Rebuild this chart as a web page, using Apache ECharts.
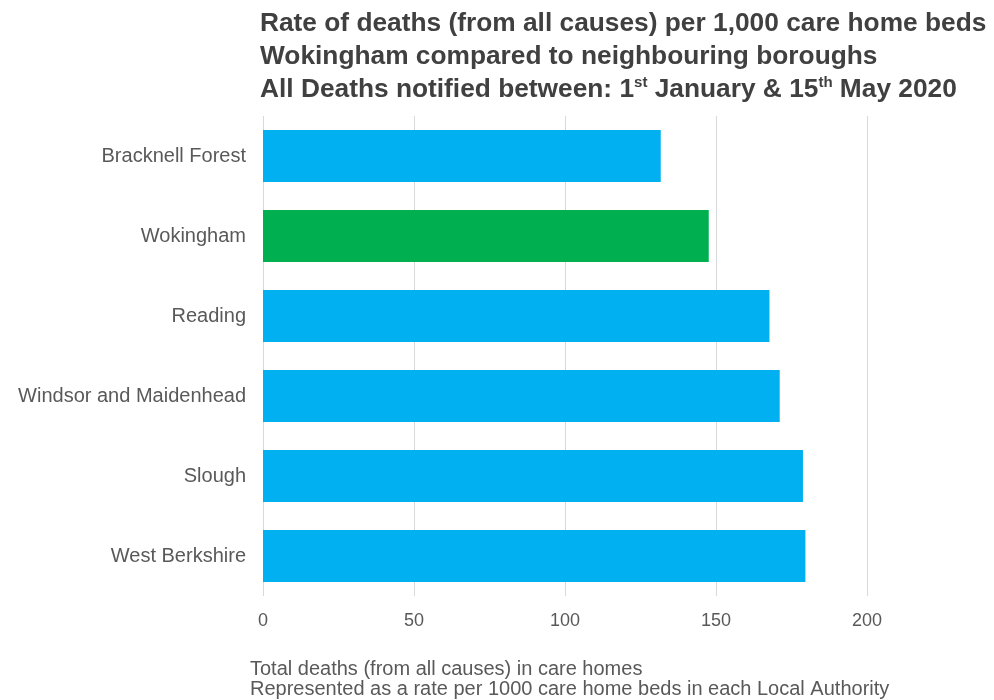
<!DOCTYPE html>
<html>
<head>
<meta charset="utf-8">
<title>Care home deaths rate</title>
<script src="https://cdn.jsdelivr.net/npm/echarts@6/dist/echarts.min.js"></script>
<style>
  html, body { margin: 0; padding: 0; background: #fff; }
  #main { width: 994px; height: 700px; }
</style>
</head>
<body>
<div id="main"></div>
<script>
var boroughs = ['Bracknell Forest', 'Wokingham', 'Reading', 'Windsor and Maidenhead', 'Slough', 'West Berkshire'];
var rates = [131.7, 147.6, 167.7, 171.1, 178.8, 179.6];
var xTicks = [0, 50, 100, 150, 200];
var highlight = 'Wokingham';

var font = 'Liberation Sans';
var myChart = echarts.init(document.getElementById('main'));

var option = {
  animation: false,
  textStyle: { fontFamily: font },
  title: [
    {
      left: 255,
      top: 2,
      text: '{a|Rate of deaths (from all causes) per 1,000 care home beds}\n' +
            '{a|Wokingham compared to neighbouring boroughs}\n' +
            '{a|All Deaths notified between: 1}{s|st}{a| January & 15}{s|th}{a| May 2020}',
      textStyle: {
        fontFamily: font,
        rich: {
          a: { fontFamily: font, fontSize: 26.3, fontWeight: 'bold', color: '#404040', lineHeight: 33 },
          s: { fontFamily: font, fontSize: 15, fontWeight: 'bold', color: '#404040', lineHeight: 33, padding: [0, 0, 13, 0] }
        }
      }
    },
    {
      left: 245,
      top: 654,
      text: 'Total deaths (from all causes) in care homes\nRepresented as a rate per 1000 care home beds in each Local Authority',
      textStyle: { fontFamily: font, fontSize: 20, fontWeight: 'normal', color: '#595959', lineHeight: 20 }
    }
  ],
  grid: { left: 263, right: 127, top: 116, bottom: 104, containLabel: false },
  xAxis: {
    type: 'value',
    min: xTicks[0],
    max: xTicks[xTicks.length - 1],
    interval: 50,
    axisLine: { show: false },
    axisTick: { show: false },
    splitLine: { show: true, lineStyle: { color: '#d9d9d9', width: 1 } },
    axisLabel: { fontFamily: font, fontSize: 18, color: '#595959', margin: 16 }
  },
  yAxis: {
    type: 'category',
    inverse: true,
    data: boroughs,
    axisLine: { show: false },
    axisTick: { show: false },
    axisLabel: { fontFamily: font, fontSize: 20, color: '#595959', margin: 17 }
  },
  series: [{
    type: 'bar',
    barWidth: 52,
    data: rates.map(function (v, i) {
      return {
        value: v,
        itemStyle: { color: boroughs[i] === highlight ? '#00B050' : '#00B0F0' }
      };
    })
  }]
};

myChart.setOption(option);
</script>
</body>
</html>
